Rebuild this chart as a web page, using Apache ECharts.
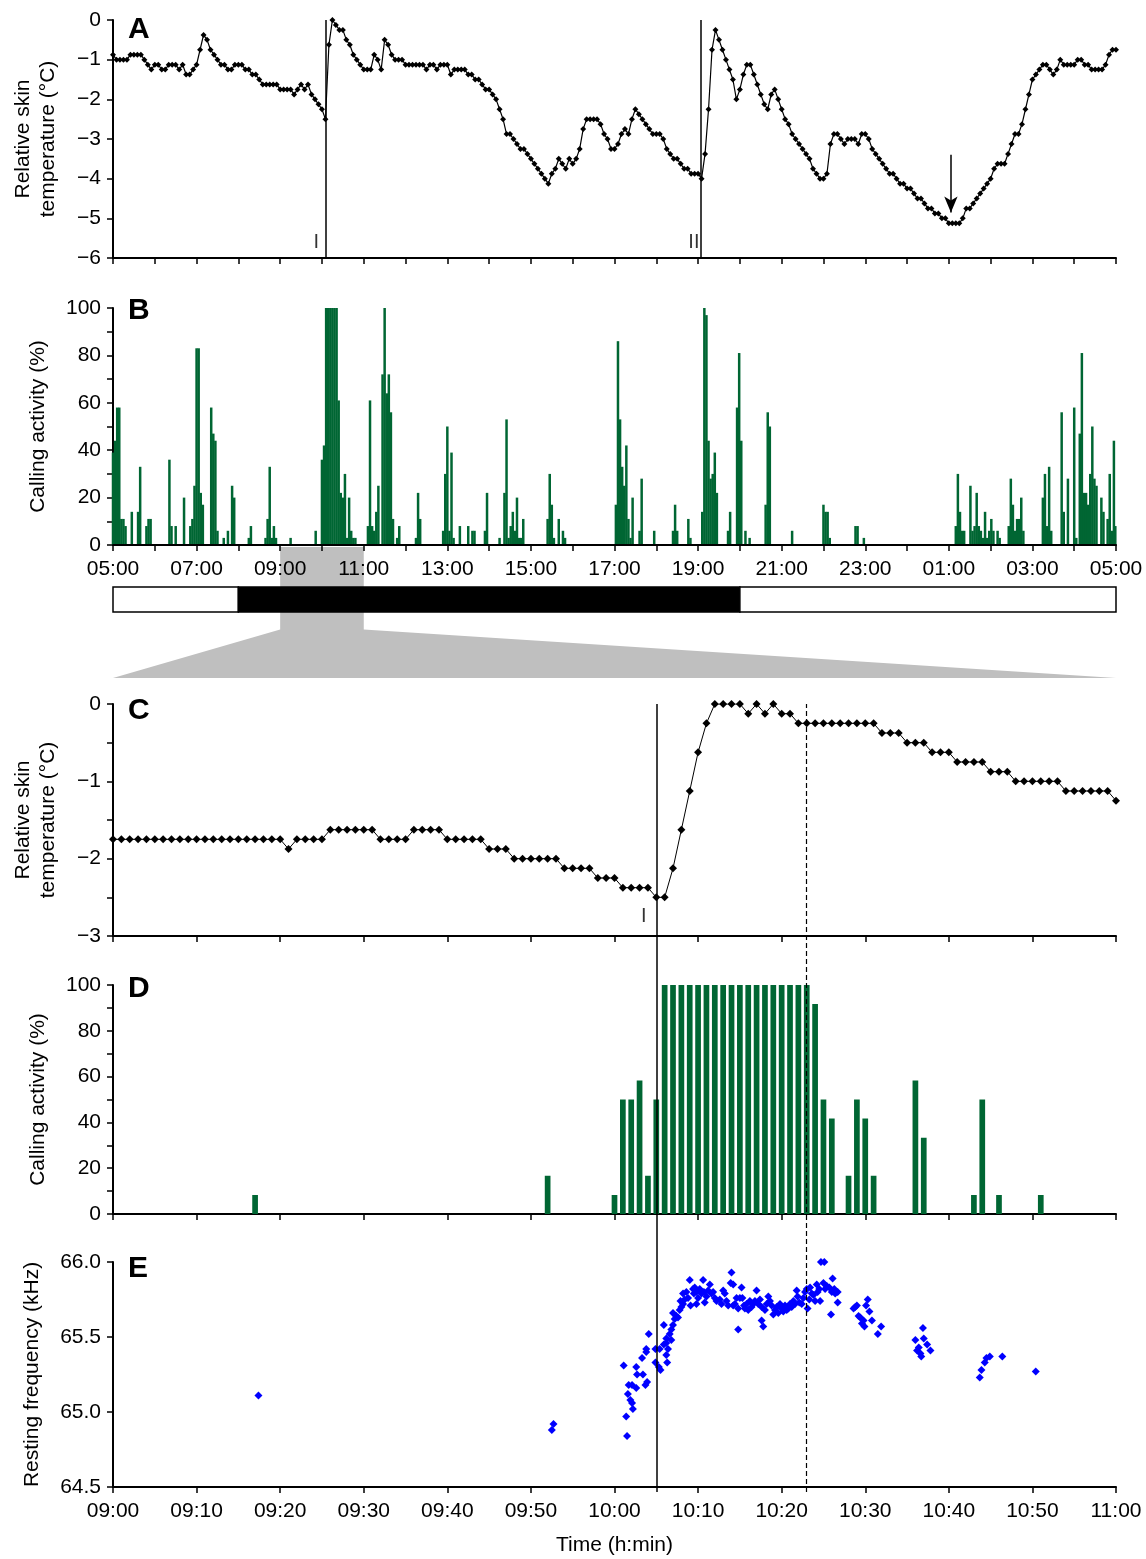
<!DOCTYPE html>
<html>
<head>
<meta charset="utf-8">
<title>Skin temperature, calling activity and resting frequency</title>
<script src="https://cdn.jsdelivr.net/npm/echarts@6/dist/echarts.min.js"></script>
<style>
  html, body { margin: 0; padding: 0; background: #fff; }
  #main { width: 1146px; height: 1559px; }
</style>
</head>
<body>
<div id="main"></div>
<script>
const FONT = '"Liberation Sans", Arial, Helvetica, sans-serif';
const GREEN = '#006633';

// ---- panel A: relative skin temperature (°C), one sample every 5 min from 05:00 ----
const tempStepA = 5;
const tempA = [
  -0.875, -1, -1, -1, -1, -0.875, -0.875, -0.875, -0.875, -1, -1.125, -1.25,            // 05
  -1.125, -1.125, -1.25, -1.25, -1.125, -1.125, -1.125, -1.25, -1.125, -1.375, -1.375, -1.25, // 06
  -1.125, -0.75, -0.375, -0.5, -0.75, -0.875, -1, -1.125, -1.125, -1.25, -1.25, -1.125,   // 07
  -1.125, -1.125, -1.25, -1.25, -1.375, -1.375, -1.5, -1.625, -1.625, -1.625, -1.625, -1.625, // 08
  -1.75, -1.75, -1.75, -1.75, -1.875, -1.75, -1.625, -1.75, -1.625, -1.875, -2, -2.125,  // 09
  -2.25, -2.5, -0.625, 0, -0.125, -0.25, -0.25, -0.5, -0.625, -0.875, -1, -1.125,        // 10
  -1.25, -1.25, -1.25, -0.875, -1, -1.25, -0.5, -0.625, -0.875, -1, -1, -1,              // 11
  -1.125, -1.125, -1.125, -1.125, -1.125, -1.125, -1.25, -1.125, -1.125, -1.25, -1.125, -1.125, // 12
  -1.125, -1.375, -1.25, -1.25, -1.25, -1.25, -1.375, -1.375, -1.5, -1.5, -1.625, -1.75, // 13
  -1.75, -1.875, -2, -2.25, -2.5, -2.875, -2.875, -3, -3.125, -3.25, -3.25, -3.375,      // 14
  -3.5, -3.625, -3.75, -3.875, -4, -4.125, -3.875, -3.75, -3.5, -3.625, -3.75, -3.5,     // 15
  -3.625, -3.5, -3.25, -2.75, -2.5, -2.5, -2.5, -2.5, -2.625, -2.875, -3, -3.25,         // 16
  -3.25, -3.125, -2.875, -2.75, -2.875, -2.5, -2.25, -2.375, -2.5, -2.625, -2.75, -2.875, // 17
  -2.875, -2.875, -3, -3.25, -3.375, -3.5, -3.5, -3.625, -3.75, -3.75, -3.875, -3.875,   // 18
  -3.875, -4, -3.375, -2.25, -0.75, -0.25, -0.5, -0.75, -1, -1.25, -1.5, -2,             // 19
  -1.75, -1.375, -1.125, -1.125, -1.375, -1.625, -1.875, -2.125, -2.25, -1.875, -1.75, -2, // 20
  -2.25, -2.5, -2.625, -2.875, -3, -3.125, -3.25, -3.375, -3.5, -3.75, -3.875, -4,       // 21
  -4, -3.875, -3.125, -2.875, -2.875, -3, -3.125, -3, -3, -3, -3.125, -2.875,            // 22
  -2.875, -3, -3.25, -3.375, -3.5, -3.625, -3.75, -3.875, -3.875, -4, -4.125, -4.125,    // 23
  -4.25, -4.25, -4.375, -4.5, -4.5, -4.625, -4.75, -4.75, -4.875, -4.875, -5, -5,        // 00
  -5.125, -5.125, -5.125, -5.125, -5, -4.75, -4.75, -4.625, -4.5, -4.375, -4.25, -4.125, // 01
  -4, -3.75, -3.625, -3.625, -3.625, -3.375, -3.125, -2.875, -2.875, -2.625, -2.25, -1.875, // 02
  -1.5, -1.375, -1.25, -1.125, -1.125, -1.25, -1.375, -1.25, -1, -1.125, -1.125, -1.125, // 03
  -1.125, -1, -1, -1.125, -1.125, -1.25, -1.25, -1.25, -1.25, -1.125, -0.875, -0.75,     // 04
  -0.75
];
const arousalsA = [305, 844];                 // minutes after 05:00 (lines I and II)
const arousalLabelsA = [[292, -5.61, 'I'], [834, -5.61, 'II']];
const minimumA = [1203, -3.4, -4.85];         // arrow: time, start, end

// ---- panel B: calling activity (%), 3-min bins, [minutes after 05:00, %] ----
const callB = [
  [0, 39], [3, 44], [6, 58], [9, 58], [12, 11], [15, 11], [18, 8], [27, 14], [36, 14], [39, 33],
  [48, 8], [51, 11], [54, 11], [81, 36], [84, 8], [90, 8], [102, 20],
  [111, 8], [114, 11], [117, 25], [120, 83], [123, 83], [126, 22], [129, 17],
  [141, 58], [144, 47], [147, 44], [150, 6], [159, 3], [165, 6], [171, 25], [174, 20],
  [195, 3], [198, 8], [219, 3], [222, 11], [225, 33], [228, 3], [231, 8], [234, 3], [255, 3], [291, 6],
  [300, 36], [303, 42], [306, 100], [309, 100], [312, 100], [315, 100], [318, 100], [321, 100],
  [324, 61], [327, 22], [330, 20], [333, 30], [336, 3], [339, 20], [342, 6], [345, 3], [348, 3],
  [366, 8], [369, 61], [372, 8], [375, 6], [378, 14], [381, 25],
  [387, 72], [390, 100], [393, 64], [396, 72], [399, 56], [402, 11], [408, 3], [411, 8],
  [435, 3], [438, 22], [441, 11], [474, 6], [477, 30], [480, 50], [483, 6], [486, 39], [489, 3],
  [498, 8], [510, 8], [516, 6], [519, 6], [534, 6], [537, 22], [555, 3],
  [562, 22], [565, 53], [568, 3], [571, 8], [574, 14], [577, 6], [580, 20], [583, 3], [586, 3], [589, 11],
  [624, 11], [627, 30], [630, 17], [633, 3], [640, 11], [646, 6], [649, 3],
  [722, 17], [725, 86], [728, 53], [731, 33], [734, 25], [737, 42], [740, 11], [743, 3], [746, 20],
  [756, 6], [759, 28], [777, 6], [804, 6], [807, 17], [810, 6], [826, 11], [829, 3],
  [846, 14], [849, 100], [852, 97], [855, 44], [858, 28], [861, 30], [864, 39], [867, 22],
  [883, 6], [886, 14], [896, 58], [899, 81], [902, 44], [908, 6], [914, 3],
  [937, 17], [940, 56], [943, 50], [975, 6],
  [1020, 17], [1023, 14], [1026, 14], [1029, 3], [1066, 8], [1069, 8], [1078, 3],
  [1210, 8], [1213, 30], [1216, 14], [1219, 6], [1222, 6],
  [1231, 25], [1234, 6], [1237, 8], [1240, 22], [1243, 8], [1246, 6], [1249, 3], [1252, 14],
  [1255, 3], [1258, 6], [1261, 11], [1264, 6], [1270, 6], [1273, 3],
  [1286, 8], [1289, 28], [1292, 17], [1295, 6], [1298, 11], [1301, 11], [1304, 20], [1307, 6],
  [1335, 20], [1338, 30], [1341, 8], [1344, 33], [1347, 6],
  [1362, 56], [1365, 14], [1371, 28], [1380, 58], [1383, 3], [1388, 47], [1391, 81],
  [1394, 22], [1397, 22], [1400, 17], [1403, 30], [1406, 50], [1409, 28], [1412, 25],
  [1419, 20], [1422, 14], [1428, 11], [1431, 30], [1434, 6], [1437, 44], [1439, 8]
];
const hourLabelsB = ['05:00', '07:00', '09:00', '11:00', '13:00', '15:00', '17:00',
                     '19:00', '21:00', '23:00', '01:00', '03:00', '05:00'];

// light / dark bar (minutes after 05:00, 1 = dark)
const photoperiod = [[0, 180, 0], [180, 900, 1], [900, 1440, 0]];
const zoomWindow = [240, 360];   // 09:00 - 11:00, enlarged in C-E
const wedgeShoulder = 0.37;

// ---- panel C: relative skin temperature, 1-min samples from 09:00 ----
const tempC = [
  -1.75, -1.75, -1.75, -1.75, -1.75, -1.75, -1.75, -1.75, -1.75, -1.75,
  -1.75, -1.75, -1.75, -1.75, -1.75, -1.75, -1.75, -1.75, -1.75, -1.75,
  -1.75, -1.875, -1.75, -1.75, -1.75, -1.75, -1.625, -1.625, -1.625, -1.625,
  -1.625, -1.625, -1.75, -1.75, -1.75, -1.75, -1.625, -1.625, -1.625, -1.625,
  -1.75, -1.75, -1.75, -1.75, -1.75, -1.875, -1.875, -1.875, -2, -2,
  -2, -2, -2, -2, -2.125, -2.125, -2.125, -2.125, -2.25, -2.25,
  -2.25, -2.375, -2.375, -2.375, -2.375, -2.5, -2.5, -2.125, -1.625, -1.125,
  -0.625, -0.25, 0, 0, 0, 0, -0.125, 0, -0.125, 0,
  -0.125, -0.125, -0.25, -0.25, -0.25, -0.25, -0.25, -0.25, -0.25, -0.25,
  -0.25, -0.25, -0.375, -0.375, -0.375, -0.5, -0.5, -0.5, -0.625, -0.625,
  -0.625, -0.75, -0.75, -0.75, -0.75, -0.875, -0.875, -0.875, -1, -1,
  -1, -1, -1, -1, -1.125, -1.125, -1.125, -1.125, -1.125, -1.125,
  -1.25
];
const arousalC = 65;       // 10:05, line I
const callEndC = 83;       // 10:23, dashed line
const arousalLabelC = [[63.5, -2.75, 'I']];

// ---- panel D: calling activity (%), 1-min bins, [minutes after 09:00, %] ----
const callD = [
  [17, 8.3], [52, 16.7], [60, 8.3], [61, 50], [62, 50], [63, 58.3], [64, 16.7], [65, 50],
  [66, 100], [67, 100], [68, 100], [69, 100], [70, 100], [71, 100], [72, 100], [73, 100], [74, 100],
  [75, 100], [76, 100], [77, 100], [78, 100], [79, 100], [80, 100], [81, 100], [82, 100], [83, 100],
  [84, 91.7], [85, 50], [86, 41.7], [88, 16.7], [89, 50], [90, 41.7], [91, 16.7],
  [96, 58.3], [97, 33.3], [103, 8.3], [104, 50], [106, 8.3], [111, 8.3]
];

// ---- panel E: resting frequency (kHz), [minutes after 09:00, kHz] ----
const freqE = [
  [17.4, 65.11], [52.5, 64.88], [52.7, 64.92],
  [61.1, 65.31], [61.4, 64.97], [61.5, 64.84], [61.6, 65.12], [61.7, 65.18], [61.9, 65.08], [62.1, 65.06],
  [62.2, 65.02], [62.1, 65.18], [62.6, 65.16], [62.6, 65.30], [62.7, 65.25], [63.4, 65.25], [63.3, 65.36],
  [63.7, 65.18], [63.9, 65.20], [63.8, 65.42], [64.1, 65.52], [63.8, 65.40],
  [64.9, 65.42], [64.9, 65.33], [65.3, 65.30], [65.5, 65.28], [65.4, 65.42], [65.9, 65.45], [65.9, 65.58],
  [66.2, 65.46], [66.2, 65.38], [66.3, 65.33], [66.4, 65.42], [66.2, 65.49], [66.6, 65.52], [66.8, 65.48],
  [66.8, 65.55], [67.0, 65.58], [67.2, 65.62], [67.0, 65.66], [67.4, 65.64], [67.6, 65.63], [67.8, 65.68],
  [68.0, 65.70], [67.9, 65.74], [68.2, 65.72], [68.2, 65.79], [68.4, 65.75], [68.6, 65.80], [68.8, 65.76],
  [69.0, 65.88], [69.1, 65.71], [69.4, 65.82], [69.5, 65.79], [69.6, 65.83], [69.8, 65.80], [69.8, 65.72],
  [70.0, 65.76], [70.2, 65.82], [70.4, 65.79], [70.6, 65.88], [70.7, 65.80], [70.8, 65.73], [71.0, 65.77],
  [71.2, 65.81], [71.4, 65.85], [71.6, 65.79], [71.8, 65.80], [72.0, 65.76], [72.2, 65.74], [72.6, 65.75],
  [72.8, 65.72], [73.0, 65.81], [73.2, 65.79], [73.4, 65.74], [73.6, 65.71], [73.9, 65.86], [74.0, 65.93],
  [74.2, 65.85], [74.2, 65.71], [74.4, 65.72], [74.6, 65.76], [74.8, 65.69], [74.8, 65.55], [75.0, 65.76],
  [75.2, 65.83], [75.3, 65.76], [75.5, 65.71], [75.6, 65.69], [75.8, 65.72], [76.0, 65.68], [76.2, 65.74],
  [76.4, 65.70], [76.6, 65.72], [76.8, 65.74], [77.0, 65.81], [77.2, 65.72], [77.4, 65.75], [77.6, 65.70],
  [77.6, 65.61], [77.8, 65.57], [78.0, 65.68], [78.2, 65.72], [78.4, 65.77], [78.6, 65.74], [78.8, 65.71],
  [79.0, 65.65], [79.2, 65.68], [79.4, 65.70], [79.6, 65.66], [79.8, 65.72], [80.0, 65.69], [80.2, 65.67],
  [80.4, 65.71], [80.6, 65.68], [80.8, 65.69], [81.0, 65.72], [81.2, 65.70], [81.4, 65.74], [81.6, 65.72],
  [81.8, 65.81], [81.9, 65.77], [82.1, 65.73], [82.4, 65.72], [82.6, 65.76], [82.8, 65.80], [83.0, 65.82],
  [83.1, 65.69], [83.3, 65.75], [83.4, 65.83], [83.6, 65.79], [83.8, 65.78], [84.0, 65.74], [84.2, 65.85],
  [84.3, 65.80], [84.5, 65.82], [84.6, 65.74], [84.7, 66.00], [85.1, 66.00], [85.0, 65.86], [85.2, 65.82],
  [85.4, 65.84], [85.7, 65.83], [85.9, 65.65], [86.0, 65.80], [86.1, 65.89], [86.3, 65.82], [86.4, 65.79],
  [86.7, 65.80], [86.7, 65.73],
  [88.6, 65.69], [88.8, 65.70], [89.0, 65.71], [89.2, 65.64], [89.4, 65.63], [89.6, 65.59], [89.8, 65.61],
  [89.9, 65.57], [90.1, 65.71], [90.3, 65.75], [90.5, 65.67], [90.8, 65.61], [91.5, 65.52], [91.9, 65.57],
  [96.0, 65.48], [96.2, 65.41], [96.6, 65.39], [96.9, 65.56], [97.0, 65.49], [96.7, 65.37], [97.4, 65.45],
  [97.8, 65.41], [96.4, 65.43],
  [103.7, 65.23], [103.9, 65.28], [104.3, 65.33], [104.5, 65.36], [104.9, 65.37],
  [106.4, 65.37], [110.4, 65.27]
];
const minuteLabelsE = ['09:00', '09:10', '09:20', '09:30', '09:40', '09:50', '10:00',
                       '10:10', '10:20', '10:30', '10:40', '10:50', '11:00'];

// ---------------------------------------------------------------------
const black = { color: '#000', width: 2 };
const tickStyle = { color: '#000', width: 1.5 };
const signed = v => (v === 0 ? '0' : '\u2212' + Math.abs(v));
const nameStyle = { color: '#000', fontSize: 21, fontFamily: FONT, lineHeight: 25 };

function xAx(grid, max, step, extra) {
  return Object.assign({
    gridIndex: grid, type: 'value', min: 0, max: max, interval: step,
    axisLine: { show: true, onZero: false, lineStyle: black },
    axisTick: { show: true, length: 6, lineStyle: tickStyle },
    axisLabel: { show: false },
    splitLine: { show: false }
  }, extra || {});
}
function yAx(grid, min, max, step, fmt, extra) {
  return Object.assign({
    gridIndex: grid, type: 'value', min: min, max: max, interval: step,
    axisLine: { show: true, onZero: false, lineStyle: black },
    axisTick: { show: true, length: 6, lineStyle: tickStyle },
    axisLabel: { color: '#000', fontSize: 21, fontFamily: FONT, margin: 12, formatter: fmt },
    splitLine: { show: false },
    nameLocation: 'middle', nameRotate: 90, nameTextStyle: nameStyle
  }, extra || {});
}
function hidden(grid, min, max) {
  return { gridIndex: grid, type: 'value', min: min, max: max, show: false, splitLine: { show: false } };
}

const chart = echarts.init(document.getElementById('main'));

chart.setOption({
  animation: false,
  backgroundColor: '#fff',
  textStyle: { fontFamily: FONT },
  title: [['A', 15], ['B', 296], ['C', 696], ['D', 974], ['E', 1254]].map(t => ({
    text: t[0], left: 128, top: t[1], padding: 0,
    textStyle: { fontSize: 30, fontWeight: 'bold', color: '#000', fontFamily: FONT }
  })),
  grid: [
    { left: 113, right: 30, top: 20, height: 238 },    // A
    { left: 113, right: 30, top: 308, height: 237 },   // B
    { left: 113, right: 30, top: 587, height: 25 },    // light/dark bar
    { left: 113, right: 30, top: 547, height: 131 },   // zoom wedge
    { left: 113, right: 30, top: 704, height: 232 },   // C
    { left: 113, right: 30, top: 985, height: 229 },   // D
    { left: 113, right: 30, top: 1262, height: 230 },  // E
    { left: 113, right: 30, top: 704, height: 788 }    // lines across C-E
  ],
  xAxis: [
    xAx(0, 1440, 60),
    xAx(1, 1440, 60, {
      z: 5,
      axisLabel: {
        color: '#000', fontSize: 21, fontFamily: FONT, margin: 14,
        formatter: v => (v % 120 === 0 ? hourLabelsB[v / 120] : '')
      }
    }),
    hidden(2, 0, 1440),
    hidden(3, 0, 1440),
    xAx(4, 120, 10),
    xAx(5, 120, 10),
    xAx(6, 120, 10, {
      axisLabel: {
        color: '#000', fontSize: 21, fontFamily: FONT, margin: 14,
        formatter: v => minuteLabelsE[v / 10]
      },
      name: 'Time (h:min)', nameLocation: 'middle', nameGap: 46,
      nameTextStyle: nameStyle
    }),
    hidden(7, 0, 120)
  ],
  yAxis: [
    yAx(0, -6, 0, 1, signed, { name: 'Relative skin\ntemperature (°C)', nameGap: 52 }),
    yAx(1, 0, 100, 10, v => (v % 20 === 0 ? String(v) : ''), { name: 'Calling activity (%)', nameGap: 62 }),
    hidden(2, 0, 1),
    hidden(3, 0, 1),
    yAx(4, -3, 0, 0.5, v => (Number.isInteger(v) ? signed(v) : ''), { name: 'Relative skin\ntemperature (°C)', nameGap: 52 }),
    yAx(5, 0, 100, 10, v => (v % 20 === 0 ? String(v) : ''), { name: 'Calling activity (%)', nameGap: 62 }),
    yAx(6, 64.5, 66, 0.5, v => v.toFixed(1), { name: 'Resting frequency (kHz)', nameGap: 68 }),
    hidden(7, 0, 1)
  ],
  series: [
    // A
    {
      type: 'line', xAxisIndex: 0, yAxisIndex: 0,
      data: tempA.map((v, i) => [i * tempStepA, v]),
      symbol: 'diamond', symbolSize: 6, showSymbol: true,
      lineStyle: { color: '#000', width: 1.2 }, itemStyle: { color: '#000' },
      markLine: {
        silent: true, symbol: ['none', 'none'], label: { show: false },
        lineStyle: { color: '#000', width: 1.5, type: 'solid' },
        data: [
          { xAxis: arousalsA[0] },
          { xAxis: arousalsA[1] },
          [
            { coord: [minimumA[0], minimumA[1]], symbol: 'none' },
            { coord: [minimumA[0], minimumA[2]], symbol: 'arrow', symbolSize: [10, 16] }
          ]
        ]
      }
    },
    {
      type: 'scatter', xAxisIndex: 0, yAxisIndex: 0, symbolSize: 0, silent: true,
      data: arousalLabelsA,
      label: { show: true, position: 'inside', formatter: p => p.value[2], fontSize: 20, color: '#000' }
    },
    // B
    {
      type: 'bar', xAxisIndex: 1, yAxisIndex: 1, data: callB,
      barWidth: 2.5, itemStyle: { color: GREEN }
    },
    // zoom wedge
    {
      type: 'custom', xAxisIndex: 3, yAxisIndex: 3, z: 1, silent: true,
      data: [zoomWindow],
      renderItem: (params, api) => {
        const a = api.value(0), b = api.value(1);
        const pts = [[a, 1], [b, 1], [b, wedgeShoulder], [1440, 0], [0, 0], [a, wedgeShoulder]]
          .map(p => api.coord(p));
        return { type: 'polygon', shape: { points: pts }, style: { fill: '#bfbfbf' } };
      }
    },
    // light / dark bar
    {
      type: 'custom', xAxisIndex: 2, yAxisIndex: 2, z: 4, silent: true,
      data: photoperiod,
      renderItem: (params, api) => {
        const p0 = api.coord([api.value(0), 1]);
        const p1 = api.coord([api.value(1), 0]);
        return {
          type: 'rect',
          shape: { x: p0[0], y: p0[1], width: p1[0] - p0[0], height: p1[1] - p0[1] },
          style: { fill: api.value(2) ? '#000' : '#fff', stroke: '#000', lineWidth: 1.5 }
        };
      }
    },
    // C
    {
      type: 'line', xAxisIndex: 4, yAxisIndex: 4,
      data: tempC.map((v, i) => [i, v]),
      symbol: 'diamond', symbolSize: 8, showSymbol: true,
      lineStyle: { color: '#000', width: 1 }, itemStyle: { color: '#000' }
    },
    {
      type: 'scatter', xAxisIndex: 4, yAxisIndex: 4, symbolSize: 0, silent: true,
      data: arousalLabelC,
      label: { show: true, position: 'inside', formatter: p => p.value[2], fontSize: 20, color: '#000' }
    },
    // D
    {
      type: 'bar', xAxisIndex: 5, yAxisIndex: 5, data: callD,
      barWidth: 5.7, itemStyle: { color: GREEN }
    },
    // E
    {
      type: 'scatter', xAxisIndex: 6, yAxisIndex: 6, data: freqE,
      symbol: 'diamond', symbolSize: 8, itemStyle: { color: '#0000ff', opacity: 1 }
    },
    // vertical lines through C-E
    {
      type: 'line', xAxisIndex: 7, yAxisIndex: 7, data: [], z: 6,
      markLine: {
        silent: true, symbol: ['none', 'none'], label: { show: false },
        data: [
          { xAxis: arousalC, lineStyle: { color: '#000', width: 1.5, type: 'solid' } },
          { xAxis: callEndC, lineStyle: { color: '#000', width: 1.2, type: [5, 3] } }
        ]
      }
    }
  ]
});
</script>
</body>
</html>
